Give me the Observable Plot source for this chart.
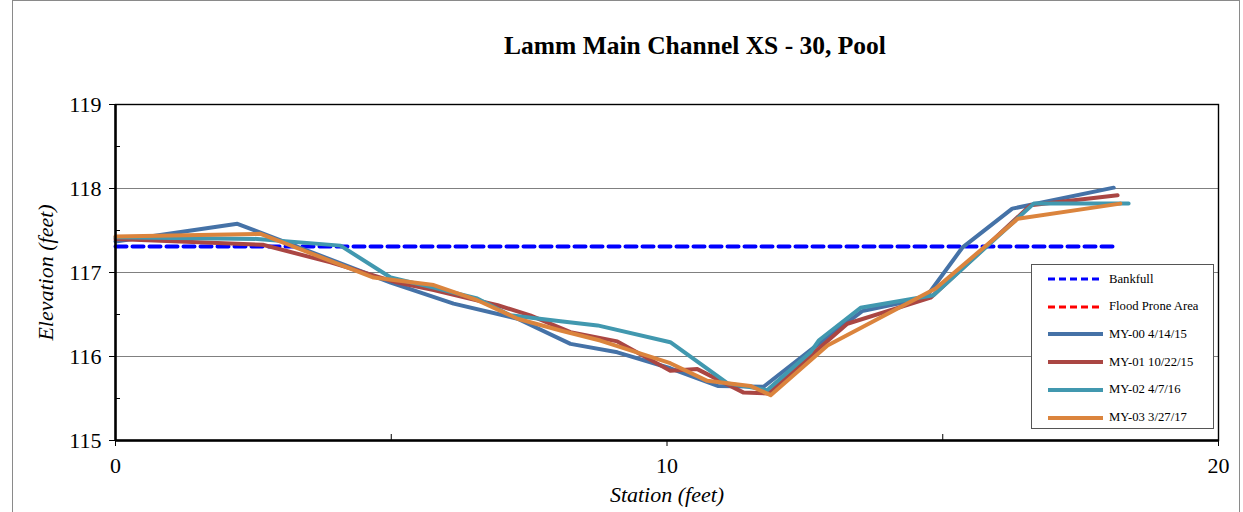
<!DOCTYPE html>
<html>
<head>
<meta charset="utf-8">
<script src="https://cdn.jsdelivr.net/npm/d3@7"></script>
<script src="https://cdn.jsdelivr.net/npm/@observablehq/plot@0.6"></script>
<style>
  html, body { margin: 0; padding: 0; background: #fff; }
  #wrap { position: relative; width: 1243px; height: 512px; overflow: hidden; font-family: "Liberation Serif", "Times New Roman", Times, serif; }
  #border { position: absolute; left: 12px; top: 0px; width: 1228px; height: 530px; border: 1px solid #8a8a8a; box-sizing: border-box; pointer-events: none; }
  #legend { position: absolute; left: 1031px; top: 264px; width: 183px; height: 165px; border: 1px solid #555; background: #fff; box-sizing: border-box; }
  #legend .row { position: absolute; left: 0; height: 14px; display: flex; align-items: center; font-size: 12.7px; color: #000; white-space: nowrap; font-family: "Liberation Serif", "Times New Roman", Times, serif; }
  #legend svg { margin-left: 16px; margin-right: 6px; }
  #chart svg text { font-family: "Liberation Serif", "Times New Roman", Times, serif; }
</style>
</head>
<body>
<div id="wrap">
  <div id="chart"></div>
  <div id="border"></div>
  <div id="legend"></div>
</div>
<script>
// ---------- data ----------
const chartTitle = "Lamm Main Channel XS - 30, Pool";
const xLabel = "Station (feet)";
const yLabel = "Elevation (feet)";

const xTicks = [0, 10, 20];
const xMinorTicks = [5, 15];
const yTicks = [115, 116, 117, 118, 119];
const yMinorTicks = [115.5, 116.5, 117.5, 118.5];
const yGrid = [116, 117, 118];

const bankfullStation = [0, 18.13];
const bankfullElev = [117.31, 117.31];

const station00 = [0, 2.21, 4.99, 6.13, 7.29, 8.25, 9.10, 10.06, 10.92, 11.75, 12.69, 13.54, 14.69, 15.36, 16.26, 18.10];
const elev00    = [117.37, 117.58, 116.88, 116.63, 116.45, 116.15, 116.05, 115.86, 115.65, 115.64, 116.12, 116.54, 116.70, 117.30, 117.76, 118.01];

const station01 = [0, 2.67, 3.90, 5.11, 5.77, 6.93, 7.52, 8.25, 9.10, 10.06, 10.55, 11.39, 11.84, 12.78, 13.27, 14.78, 16.59, 18.17];
const elev01    = [117.40, 117.33, 117.12, 116.88, 116.79, 116.61, 116.49, 116.29, 116.18, 115.83, 115.85, 115.57, 115.56, 116.11, 116.39, 116.70, 117.80, 117.92];

const station02 = [0, 2.57, 4.08, 4.99, 5.77, 6.56, 7.16, 8.07, 8.74, 10.06, 11.10, 11.82, 12.60, 12.75, 13.51, 14.83, 16.65, 18.37];
const elev02    = [117.42, 117.40, 117.32, 116.94, 116.82, 116.69, 116.49, 116.42, 116.37, 116.17, 115.68, 115.60, 116.05, 116.19, 116.58, 116.73, 117.82, 117.82];

const station03 = [0, 2.63, 4.68, 5.77, 6.56, 7.29, 8.07, 8.79, 10.06, 10.73, 11.51, 11.88, 12.91, 14.87, 16.36, 18.22];
const elev03    = [117.43, 117.46, 116.94, 116.85, 116.67, 116.45, 116.31, 116.19, 115.92, 115.71, 115.65, 115.54, 116.13, 116.81, 117.64, 117.82];

const seriesNames = ["Bankfull", "Flood Prone Area", "MY-00 4/14/15", "MY-01 10/22/15", "MY-02 4/7/16", "MY-03 3/27/17"];
const seriesColors = ["#0000FF", "#FF0000", "#4572A7", "#AA4643", "#4198AF", "#DB843D"];
const seriesDashed = [true, true, false, false, false, false];

// ---------- build ----------
const serif = "'Liberation Serif', 'Times New Roman', Times, serif";
const toRows = (xs, ys) => xs.map((x, i) => ({station: x, elev: ys[i]}));
const surveys = [
  toRows(station00, elev00),
  toRows(station01, elev01),
  toRows(station02, elev02),
  toRows(station03, elev03)
];
const intFmt = d => String(d);

const plot = Plot.plot({
  width: 1243,
  height: 512,
  marginLeft: 115,
  marginRight: 25,
  marginTop: 104,
  marginBottom: 72,
  style: {fontFamily: serif, fontSize: "22px", color: "#000", background: "transparent", overflow: "visible"},
  x: {domain: [0, 20]},
  y: {domain: [115, 119]},
  marks: [
    Plot.gridY({ticks: yGrid, stroke: "#808080", strokeOpacity: 1, strokeWidth: 1.2}),
    Plot.frame({stroke: "#000", strokeWidth: 1.4}),
    Plot.axisY({ticks: yTicks, tickSize: 6, tickPadding: 8, tickFormat: intFmt, label: null, fontSize: 22, stroke: "#000"}),
    Plot.axisY({ticks: yMinorTicks, tickSize: -5, tickFormat: () => "", label: null, stroke: "#000"}),
    Plot.axisX({ticks: xTicks, tickSize: 6, tickPadding: 11, tickFormat: intFmt, label: null, fontSize: 22, stroke: "#000"}),
    Plot.axisX({ticks: xMinorTicks, tickSize: -6, tickFormat: () => "", label: null, stroke: "#000"}),
    Plot.line(toRows(bankfullStation, bankfullElev), {x: "station", y: "elev", stroke: seriesColors[0], strokeWidth: 4, strokeDasharray: "11,6"}),
    ...surveys.map((rows, i) => Plot.line(rows, {x: "station", y: "elev", stroke: seriesColors[i + 2], strokeWidth: 4, strokeLinejoin: "round"})),
    Plot.ruleX([0], {stroke: "#000", strokeWidth: 2.5}),
    Plot.ruleY([115], {stroke: "#000", strokeWidth: 2.5}),
    Plot.text([chartTitle], {frameAnchor: "top", lineAnchor: "middle", dy: -59, dx: 28, fontSize: 25.5, fontWeight: "bold", fill: "#000"}),
    Plot.text([xLabel], {frameAnchor: "bottom", lineAnchor: "middle", dy: 54, fontSize: 22, fontStyle: "italic", fill: "#000"}),
    Plot.text([yLabel], {frameAnchor: "left", textAnchor: "middle", lineAnchor: "middle", dx: -70, rotate: -90, fontSize: 22, fontStyle: "italic", fill: "#000"})
  ]
});
document.getElementById("chart").appendChild(plot);

// ---------- legend ----------
const legend = document.getElementById("legend");
seriesNames.forEach((name, i) => {
  const row = document.createElement("div");
  row.className = "row";
  row.style.top = (7 + i * 27.7) + "px";
  const ns = "http://www.w3.org/2000/svg";
  const svg = document.createElementNS(ns, "svg");
  svg.setAttribute("width", "55");
  svg.setAttribute("height", "6");
  const ln = document.createElementNS(ns, "line");
  ln.setAttribute("x1", "0"); ln.setAttribute("x2", "55");
  ln.setAttribute("y1", "3"); ln.setAttribute("y2", "3");
  ln.setAttribute("stroke", seriesColors[i]);
  ln.setAttribute("stroke-width", seriesDashed[i] ? "3" : "4");
  if (seriesDashed[i]) ln.setAttribute("stroke-dasharray", "7,4");
  svg.appendChild(ln);
  row.appendChild(svg);
  const t = document.createElement("span");
  t.textContent = name;
  row.appendChild(t);
  legend.appendChild(row);
});
</script>
</body>
</html>
